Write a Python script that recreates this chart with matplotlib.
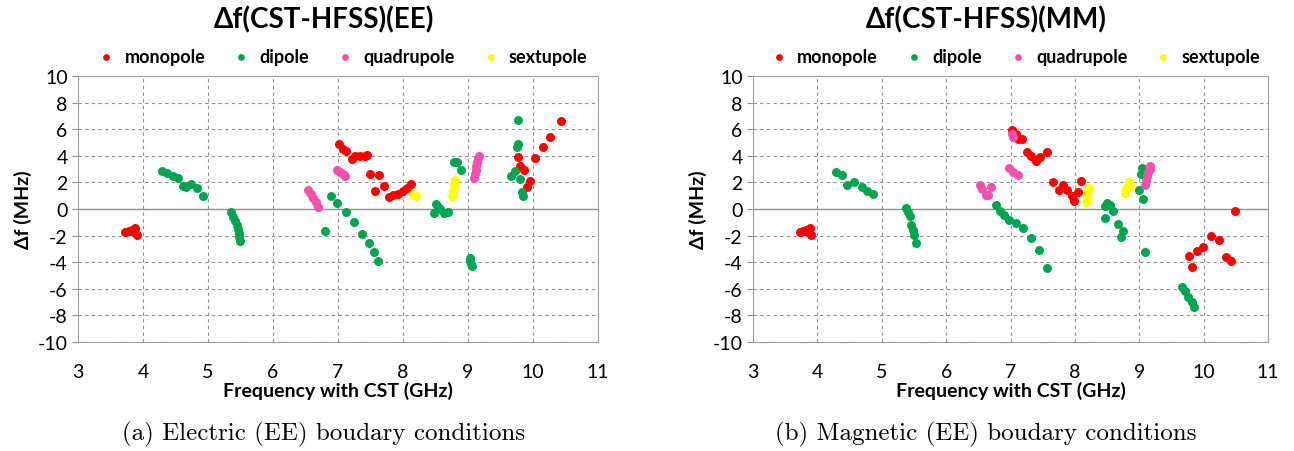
import matplotlib.pyplot as plt

# Delta f (CST - HFSS) vs CST frequency, two boundary conditions

# ---- EE (electric) ----
ee_mono_f = [3.72, 3.78, 3.83, 3.88, 3.90, 3.86,
             7.02, 7.08, 7.13, 7.21, 7.26, 7.34, 7.42, 7.44,
             7.49, 7.63, 7.57, 7.71, 7.79, 7.85, 7.93, 8.00, 8.06, 8.13,
             9.77, 9.80, 9.86, 9.95, 9.91, 10.04, 10.15, 10.27, 10.43]
ee_mono_df = [-1.7, -1.65, -1.6, -1.4, -1.95, -1.75,
              4.9, 4.5, 4.4, 3.76, 3.96, 3.96, 3.96, 4.06,
              2.63, 2.56, 1.33, 1.75, 0.93, 1.05, 1.13, 1.38, 1.55, 1.88,
              3.88, 3.2, 2.95, 2.13, 1.63, 3.81, 4.68, 5.44, 6.64]

ee_dip_f = [4.30, 4.37, 4.46, 4.54, 4.61, 4.66, 4.74, 4.83, 4.93,
            5.36, 5.39, 5.41, 5.44, 5.46, 5.47, 5.48, 5.49,
            6.80, 6.89, 6.99, 7.12, 7.25, 7.37, 7.48, 7.55, 7.61,
            8.51, 8.48, 8.54, 8.57, 8.63, 8.70, 8.78, 8.84, 8.90,
            9.03, 9.04, 9.05, 9.06,
            9.77, 9.77, 9.76, 9.67, 9.72, 9.80, 9.83, 9.85]
ee_dip_df = [2.88, 2.7, 2.5, 2.3, 1.7, 1.65, 1.9, 1.55, 1.0,
             -0.2, -0.6, -0.9, -1.2, -1.5, -1.8, -2.1, -2.4,
             -1.68, 0.95, 0.42, -0.2, -0.95, -1.88, -2.55, -3.26, -3.88,
             0.38, -0.3, 0.15, 0.0, -0.3, -0.2, 3.56, 3.56, 2.93,
             -3.7, -3.9, -4.1, -4.3,
             6.7, 4.9, 4.64, 2.5, 2.88, 2.26, 1.25, 1.0]

ee_quad_f = [6.54, 6.58, 6.62, 6.66, 6.70,
             6.98, 7.03, 7.08, 7.11,
             9.10, 9.11, 9.12, 9.13, 9.14, 9.16, 9.17]
ee_quad_df = [1.4, 1.1, 0.8, 0.5, 0.15,
              2.9, 2.75, 2.6, 2.45,
              2.3, 2.6, 2.9, 3.2, 3.5, 3.8, 4.0]

ee_sext_f = [8.16, 8.20, 8.76, 8.77, 8.78, 8.79, 8.80]
ee_sext_df = [1.15, 1.0, 1.0, 1.3, 1.6, 1.9, 2.2]

# ---- MM (magnetic) ----
mm_mono_f = [3.73, 3.78, 3.82, 3.88, 3.90, 3.86,
             7.02, 7.08, 7.12, 7.18, 7.25, 7.32, 7.39, 7.46, 7.56,
             7.66, 7.75, 7.81, 7.88, 7.96, 7.98, 8.05, 8.10,
             9.77, 9.82, 9.90, 9.99, 10.11, 10.24, 10.35, 10.42, 10.49]
mm_mono_df = [-1.7, -1.65, -1.6, -1.4, -1.95, -1.75,
              5.92, 5.67, 5.3, 5.25, 4.31, 4.0, 3.6, 3.93, 4.31,
              2.01, 1.44, 1.81, 1.44, 0.95, 0.57, 1.27, 2.11,
              -3.53, -4.35, -3.16, -2.86, -2.04, -2.29, -3.6, -3.9, -0.13]

mm_dip_f = [4.29, 4.38, 4.46, 4.57, 4.69, 4.77, 4.86,
            5.37, 5.40, 5.43, 5.46, 5.48, 5.50, 5.53,
            6.78, 6.84, 6.89, 6.97, 7.08, 7.19, 7.31, 7.44, 7.56,
            8.47, 8.50, 8.55, 8.59, 8.47, 8.67, 8.75, 8.72,
            9.04, 9.02, 9.00, 9.06, 9.09,
            9.66, 9.71, 9.76, 9.82, 9.85]
mm_dip_df = [2.81, 2.56, 1.81, 2.07, 1.62, 1.37, 1.12,
             0.07, -0.25, -0.55, -1.17, -1.55, -1.92, -2.54,
             0.32, -0.17, -0.42, -0.8, -1.04, -1.42, -2.16, -3.11, -4.4,
             0.2, 0.45, 0.28, -0.17, -0.67, -1.12, -1.66, -2.11,
             3.06, 2.6, 1.44, 0.77, -3.23,
             -5.84, -6.14, -6.64, -7.01, -7.34]

mm_quad_f = [6.52, 6.55, 6.62, 6.65, 6.70,
             7.02, 7.03, 6.97, 7.04, 7.11,
             9.08, 9.10, 9.12, 9.14, 9.16, 9.17]
mm_quad_df = [1.81, 1.5, 1.07, 1.02, 1.66,
              5.67, 5.4, 3.11, 2.81, 2.56,
              1.8, 2.1, 2.5, 2.8, 3.0, 3.2]

mm_sext_f = [8.17, 8.18, 8.19, 8.20, 8.21, 8.78, 8.80, 8.82, 8.84, 8.86]
mm_sext_df = [0.5, 0.8, 1.1, 1.4, 1.6, 1.2, 1.5, 1.8, 2.0, 1.75]

labels = ['monopole', 'dipole', 'quadrupole', 'sextupole']
colors = ['#ff0000', '#00a550', '#f24fae', '#ffff00']

xticks = [3, 4, 5, 6, 7, 8, 9, 10, 11]
yticks = [-10, -8, -6, -4, -2, 0, 2, 4, 6, 8, 10]

FONT = 'Lato'
plt.rcParams['axes.unicode_minus'] = False


def draw_panel(ax, series, title, caption, fig, cx):
    for (f, df), lab, col in zip(series, labels, colors):
        ax.scatter(f, df, s=42, color=col, label=lab, zorder=3, linewidths=0)
    ax.set_xlim(3, 11)
    ax.set_ylim(-10, 10)
    ax.set_xticks(xticks)
    ax.set_yticks(yticks)
    ax.grid(True, linestyle=(0, (3, 3)), color='#909090', linewidth=0.8)
    ax.axhline(0, color='#909090', linewidth=1.0, zorder=1)
    for sp in ax.spines.values():
        sp.set_color('#a0a0a0')
    ax.tick_params(axis='both', colors='#909090', length=4, labelcolor='black',
                   labelsize=14)
    ax.tick_params(axis='x', length=0, pad=15)
    for t in ax.get_xticklabels() + ax.get_yticklabels():
        t.set_fontfamily(FONT)
    ax.set_xlabel('Frequency with CST (GHz)', fontsize=14, fontweight='bold',
                  fontfamily=FONT, labelpad=1)
    ax.set_ylabel('Δf (MHz)', fontsize=14, fontweight='bold',
                  fontfamily=FONT, labelpad=4)
    fig.text(cx, 0.955, title, ha='center', va='center', fontsize=20,
             fontweight='bold', fontfamily=FONT)
    ax.legend(loc='lower center', bbox_to_anchor=(0.5, 1.0), ncol=4,
              frameon=False, handletextpad=0.0, columnspacing=1.0,
              markerscale=0.75, borderaxespad=0.2,
              prop={'family': FONT, 'weight': 'bold', 'size': 13})
    fig.text(cx, 0.038, caption, ha='center', va='center', fontsize=18,
             fontfamily='cmr10')


def main():
    fig = plt.figure(figsize=(12.94, 4.52), dpi=100)
    ax1 = fig.add_axes([0.0603, 0.241, 0.4017, 0.5886])
    ax2 = fig.add_axes([0.582, 0.241, 0.398, 0.5886])

    ee = [(ee_mono_f, ee_mono_df), (ee_dip_f, ee_dip_df),
          (ee_quad_f, ee_quad_df), (ee_sext_f, ee_sext_df)]
    mm = [(mm_mono_f, mm_mono_df), (mm_dip_f, mm_dip_df),
          (mm_quad_f, mm_quad_df), (mm_sext_f, mm_sext_df)]

    draw_panel(ax1, ee, 'Δf(CST-HFSS)(EE)', '(a) Electric (EE) boudary conditions', fig, 0.25)
    draw_panel(ax2, mm, 'Δf(CST-HFSS)(MM)', '(b) Magnetic (EE) boudary conditions', fig, 0.762)

    fig.savefig('out.png', dpi=100)


if __name__ == "__main__":
    main()
